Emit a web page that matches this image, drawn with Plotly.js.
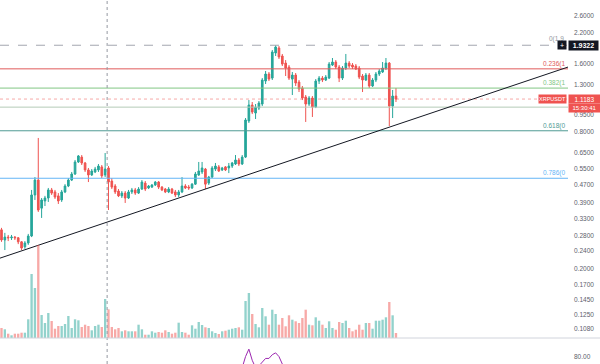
<!DOCTYPE html>
<html><head><meta charset="utf-8">
<script src="https://cdn.plot.ly/plotly-3.0.1.min.js"></script>
<style>html,body{margin:0;padding:0;background:#fff}#chart{width:600px;height:364px}</style>
</head><body><div id="chart"></div>
<script>
// XRP/USDT candles (index = bar number)
const openP = [0.296,0.267,0.275,0.273,0.275,0.273,0.262,0.249,0.259,0.278,0.422,0.491,0.369,0.397,0.409,0.444,0.435,0.418,0.401,0.435,
0.462,0.491,0.522,0.590,0.620,0.584,0.544,0.517,0.533,0.544,0.561,0.517,0.555,0.486,0.462,0.439,0.418,0.430,0.409,0.435,
0.444,0.430,0.448,0.476,0.453,0.457,0.467,0.481,0.457,0.448,0.435,0.448,0.435,0.422,0.435,0.462,0.457,0.453,0.471,0.517,
0.533,0.549,0.476,0.506,0.549,0.561,0.544,0.561,0.555,0.566,0.578,0.602,0.578,0.620,0.895,1.052,0.970,1.020,1.063,1.343,
1.442,1.384,1.786,1.879,1.732,1.612,1.548,1.370,1.427,1.329,1.251,1.142,1.063,1.130,1.031,1.343,1.384,1.357,1.384,1.580,
1.629,1.548,1.384,1.533,1.612,1.580,1.564,1.533,1.413,1.357,1.427,1.277,1.357,1.442,1.472,1.533,1.612,1.041,1.153];
const highP = [0.302,0.287,0.281,0.281,0.278,0.275,0.264,0.264,0.284,0.444,0.506,0.753,0.409,0.418,0.453,0.453,0.444,0.430,0.444,0.471,
0.501,0.533,0.602,0.633,0.633,0.590,0.555,0.549,0.561,0.578,0.572,0.646,0.566,0.501,0.471,0.448,0.439,0.439,0.444,0.453,
0.453,0.457,0.491,0.486,0.467,0.471,0.486,0.486,0.462,0.453,0.457,0.453,0.444,0.444,0.506,0.471,0.467,0.476,0.533,0.590,
0.590,0.555,0.512,0.566,0.584,0.572,0.561,0.566,0.584,0.590,0.633,0.614,0.633,0.922,1.107,1.085,1.063,1.096,1.384,1.487,
1.472,1.841,1.932,1.917,1.768,1.662,1.580,1.472,1.457,1.357,1.277,1.165,1.153,1.153,1.370,1.413,1.413,1.427,1.629,1.697,
1.662,1.580,1.564,1.768,1.645,1.612,1.596,1.564,1.442,1.457,1.457,1.384,1.472,1.517,1.629,1.697,1.629,1.226,1.251];
const lowP = [0.262,0.241,0.264,0.267,0.267,0.256,0.241,0.244,0.254,0.275,0.401,0.355,0.334,0.377,0.393,0.422,0.405,0.385,0.393,0.430,
0.457,0.486,0.517,0.584,0.572,0.533,0.481,0.512,0.527,0.533,0.501,0.506,0.362,0.448,0.426,0.413,0.409,0.389,0.405,0.426,
0.422,0.426,0.444,0.439,0.448,0.453,0.462,0.448,0.439,0.430,0.430,0.426,0.413,0.413,0.430,0.448,0.444,0.448,0.467,0.512,
0.522,0.448,0.467,0.501,0.538,0.533,0.538,0.538,0.527,0.555,0.572,0.566,0.572,0.614,0.877,0.960,0.913,1.000,1.041,1.303,
1.343,1.357,1.732,1.680,1.564,1.413,1.357,1.165,1.277,1.201,1.107,0.886,1.041,0.932,1.020,1.303,1.329,1.343,1.370,1.564,
1.517,1.329,1.357,1.502,1.533,1.517,1.502,1.370,1.201,1.343,1.251,1.264,1.329,1.413,1.457,1.502,0.850,0.922,1.085];
const closeP = [0.267,0.275,0.273,0.275,0.273,0.262,0.246,0.259,0.278,0.422,0.491,0.362,0.401,0.409,0.444,0.430,0.413,0.397,0.435,0.462,
0.491,0.522,0.590,0.627,0.584,0.544,0.517,0.538,0.549,0.566,0.512,0.549,0.481,0.457,0.435,0.418,0.430,0.409,0.435,0.444,
0.430,0.448,0.481,0.448,0.462,0.467,0.481,0.457,0.444,0.435,0.448,0.430,0.422,0.435,0.462,0.453,0.453,0.471,0.522,0.538,
0.555,0.471,0.506,0.555,0.566,0.538,0.555,0.544,0.566,0.584,0.602,0.578,0.620,0.904,1.052,0.980,1.031,1.074,1.357,1.442,
1.370,1.804,1.898,1.715,1.596,1.533,1.384,1.427,1.316,1.238,1.130,1.063,1.130,1.031,1.343,1.384,1.357,1.398,1.596,1.629,
1.548,1.384,1.533,1.612,1.564,1.548,1.517,1.398,1.357,1.427,1.277,1.357,1.442,1.487,1.533,1.612,1.041,1.153,1.1183];
const volume = [10,8.7,4.3,2.7,4.3,4.3,5.3,5.3,18.7,64,50,93,23,15,25,17,9.3,12,12,14,
22,10,18.7,17.7,11,13.3,12,7.7,12,13.3,11,39,28.7,11,8.7,10,6.7,7.7,6.7,6.7,
6.7,13.3,8.7,3.3,3.3,6.7,5.3,6,5.3,7.7,6,4.3,5.3,15.3,6,5.3,3.3,12.7,9.3,16,
13,10.7,10,6.7,5,4,6.7,7.3,8.3,9.3,10,10.7,8.3,37,45,24,14,10.7,30,21.7,
13.3,28.3,24,13.3,20,11.7,22.7,18.3,16.7,15,20,28.3,13.3,12.7,20.7,17.3,13.3,10,16.7,10,
8.3,16,15,17.3,10,6.7,8.3,13.3,8.3,15,15,9.3,17.3,17.3,18.3,20.7,36,22.7,5];
// RSI fragment visible in lower pane
const rsiIdx = [70,71,72,73,74,75,76,77,78,79,80,81,82,83,84,85,86];
const rsiVal = [70,72,74,80,84,78,74,75,77,79,79,81,82,80,76,72,70];
// Fibonacci levels and labels
const fibLevels = [1.9322,1.52,1.25,1.03,0.81,0.50];
const fibNames = ['0(1.9','0.236(1','0.382(1','','0.618(0','0.786(0'];
const fibColors = ['#a3a6af','#e05a5a','#81c784','#b5cbb7','#4f9a94','#64b5f6'];
const fibDash = ['dash','solid','solid','solid','solid','solid'];
// trend line anchors (bar index, price)
const trendIdx = [-0.45,169.46];
const trendVal = [0.222,1.548];
const lastPrice = 1.1183;
const priceTicks = [2.6,2.2,1.6,1.3,0.95,0.8,0.65,0.55,0.47,0.39,0.33,0.28,0.24,0.2,0.17,0.145,0.125,0.108];
const vLineIdx = 31.6;

const idx = closeP.map((_, i) => i);
const up = idx.map(i => closeP[i] >= openP[i]);
const GREEN = '#26a69a', RED = '#ef5350';
const XR = [-0.45, 169.46];

const traces = [];
traces.push({type:'bar', x: idx, y: volume, yaxis:'y2', width:0.7,
  marker:{color: up.map(u => u ? 'rgba(38,166,154,0.5)' : 'rgba(239,83,80,0.5)'), line:{width:0}},
  hoverinfo:'skip', showlegend:false});
fibLevels.forEach((lv, k) => {
  traces.push({type:'scatter', mode:'lines', x: XR, y:[lv, lv],
    line:{color: fibColors[k], width:1, dash: fibDash[k]}, hoverinfo:'skip', showlegend:false});
});
traces.push({type:'scatter', mode:'lines', x: XR, y:[lastPrice,lastPrice],
  line:{color:'rgba(239,83,80,0.5)', width:1, dash:'dot'}, hoverinfo:'skip', showlegend:false});
traces.push({type:'scatter', mode:'lines', x: trendIdx, y: trendVal,
  line:{color:'#131722', width:1}, hoverinfo:'skip', showlegend:false});
traces.push({type:'candlestick', x: idx, open: openP, high: highP, low: lowP, close: closeP,
  increasing:{line:{color:GREEN, width:1}, fillcolor:GREEN},
  decreasing:{line:{color:RED, width:1}, fillcolor:RED},
  whiskerwidth:0, hoverinfo:'skip', showlegend:false});
traces.push({type:'scatter', mode:'lines', x: rsiIdx, y: rsiVal, xaxis:'x', yaxis:'y3',
  line:{color:'#9c27b0', width:1}, hoverinfo:'skip', showlegend:false});

const PW = 568/600;
const paneBottom = 26/364;
const lg = v => Math.log10(v);
const ann = [];
fibLevels.forEach((lv, k) => {
  if (!fibNames[k] || k === 0) return;
  ann.push({xref:'paper', yref:'y', x: 567/600, y: lg(lv), xanchor:'right', yanchor:'bottom',
    text: fibNames[k], showarrow:false, font:{size:6.5, color: fibColors[k], family:'Liberation Sans'}, yshift:-1});
});
ann.push({xref:'paper', yref:'y', x: 566/600, y: lg(fibLevels[0]), xanchor:'right', yanchor:'bottom',
  text: fibNames[0], showarrow:false, font:{size:6.5, color:'#9598a1', family:'Liberation Sans'}, yshift:0});
ann.push({xref:'paper', yref:'y', x: 568/600, y: lg(fibLevels[0]), xanchor:'left', yanchor:'middle',
  text:'<b>'+fibLevels[0].toFixed(4)+'</b>', showarrow:false, bgcolor:'#131722', font:{size:7, color:'#fff', family:'Liberation Sans'},
  width:29, height:9, borderpad:0});
ann.push({xref:'paper', yref:'y', x: 562/600, y: lg(fibLevels[0]), xanchor:'center', yanchor:'middle',
  text:'+', showarrow:false, bgcolor:'#131722', font:{size:7, color:'#fff', family:'Liberation Sans'},
  width:8, height:8, borderpad:0});
ann.push({xref:'paper', yref:'y', x: 567/600, y: lg(lastPrice), xanchor:'right', yanchor:'middle',
  text:'XRPUSDT', showarrow:false, bgcolor:RED, font:{size:5.5, color:'#fff', family:'Liberation Sans'},
  width:27, height:8, borderpad:0});
ann.push({xref:'paper', yref:'y', x: 568/600, y: lg(lastPrice), xanchor:'left', yanchor:'middle',
  text: lastPrice.toFixed(4), showarrow:false, bgcolor:RED, font:{size:6.5, color:'#fff', family:'Liberation Sans'},
  width:31, height:8, borderpad:0});
ann.push({xref:'paper', yref:'y', x: 568/600, y: lg(lastPrice), xanchor:'left', yanchor:'top',
  text:'15:30:41', showarrow:false, bgcolor:RED, font:{size:6, color:'#fff', family:'Liberation Sans'},
  width:31, height:8, borderpad:0, yshift:-4});

const layout = {
  width:600, height:364, margin:{l:0, r:0, t:0, b:0},
  paper_bgcolor:'#fff', plot_bgcolor:'#fff', showlegend:false,
  xaxis:{domain:[0, PW], range: XR, showgrid:false, zeroline:false, showticklabels:false, ticks:'',
    rangeslider:{visible:false}, showline:false, fixedrange:true},
  yaxis:{domain:[paneBottom, 1], type:'log', range:[lg(0.0986), lg(3.06)], side:'right',
    tickvals: priceTicks, ticktext: priceTicks.map(v => v.toFixed(4)), showgrid:false, zeroline:false,
    ticks:'', ticklabelstandoff:5, tickfont:{size:6.5, color:'#5d606b', family:'Liberation Sans'}, showline:false},
  yaxis2:{domain:[paneBottom, 1], overlaying:'y', range:[0, 338], visible:false},
  yaxis3:{domain:[0, paneBottom], range:[76, 90], side:'right', tickvals:[80], ticktext:['80.00'],
    showgrid:false, zeroline:false, ticks:'', ticklabelstandoff:5, tickfont:{size:6.5, color:'#5d606b', family:'Liberation Sans'}},
  shapes:[
    {type:'line', xref:'x', yref:'paper', x0:vLineIdx, x1:vLineIdx, y0:0, y1:1, line:{color:'#9598a1', width:1, dash:'dot'}},
    {type:'line', xref:'paper', yref:'paper', x0:0, x1:1, y0:paneBottom, y1:paneBottom, line:{color:'#d1d4dc', width:1}}
  ],
  annotations: ann
};
Plotly.newPlot('chart', traces, layout, {staticPlot:true, displayModeBar:false});
</script></body></html>
